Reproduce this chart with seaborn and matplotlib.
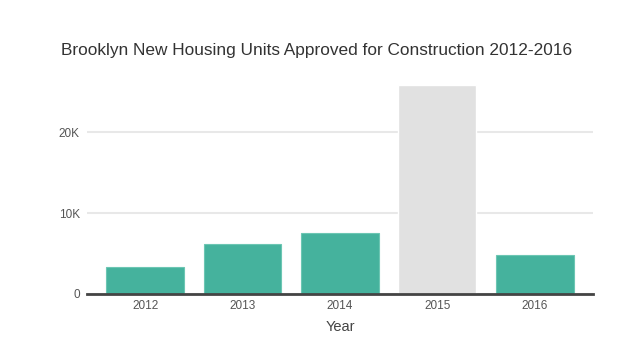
import matplotlib
matplotlib.use("Agg")
import matplotlib.pyplot as plt
import seaborn as sns
import pandas as pd
from matplotlib.ticker import FuncFormatter

years = ["2012", "2013", "2014", "2015", "2016"]
units = [3360, 6160, 7560, 25900, 4790]
bar_colors = ["#45b29d", "#45b29d", "#45b29d", "#e1e1e1", "#45b29d"]

df = pd.DataFrame({"Year": years, "Units": units})

sns.set_theme(style="white")
plt.rcParams["font.family"] = ["Liberation Sans", "DejaVu Sans"]

fig = plt.figure(figsize=(6.33, 3.56), dpi=100)
ax = fig.add_axes([0.137, 0.1742, 0.800, 0.590])

sns.barplot(data=df, x="Year", y="Units", hue="Year", palette=bar_colors,
            legend=False, width=0.8, saturation=1, ax=ax, zorder=2)

# thin lighter outline like the original
for p, c in zip(ax.patches, bar_colors):
    if c != "#e1e1e1":
        p.set_edgecolor("#6cc6b3")
        p.set_linewidth(0.8)

ax.set_xlim(-0.6, 4.6)
ax.set_ylim(0, 26000)
ax.set_yticks([0, 10000, 20000])
ax.yaxis.set_major_formatter(FuncFormatter(lambda v, p: "0" if v == 0 else f"{int(v/1000)}K"))
ax.grid(axis="y", color="#e8e8e8", linewidth=1.5, zorder=0)
ax.set_axisbelow(True)

for s in ["top", "right", "left"]:
    ax.spines[s].set_visible(False)
ax.spines["bottom"].set_color("#444444")
ax.spines["bottom"].set_linewidth(2)
ax.spines["bottom"].set_zorder(3)

ax.tick_params(axis="both", length=0, labelsize=8.5, labelcolor="#555555")
ax.tick_params(axis="x", pad=4)
ax.tick_params(axis="y", pad=5)
ax.set_ylabel("")
ax.set_xlabel("Year", fontsize=10.5, color="#444444", labelpad=6)

fig.text(0.5, 0.858, "Brooklyn New Housing Units Approved for Construction 2012-2016",
         ha="center", va="center", fontsize=12.4, color="#333333")

fig.savefig("out.png", dpi=100, facecolor="white")
